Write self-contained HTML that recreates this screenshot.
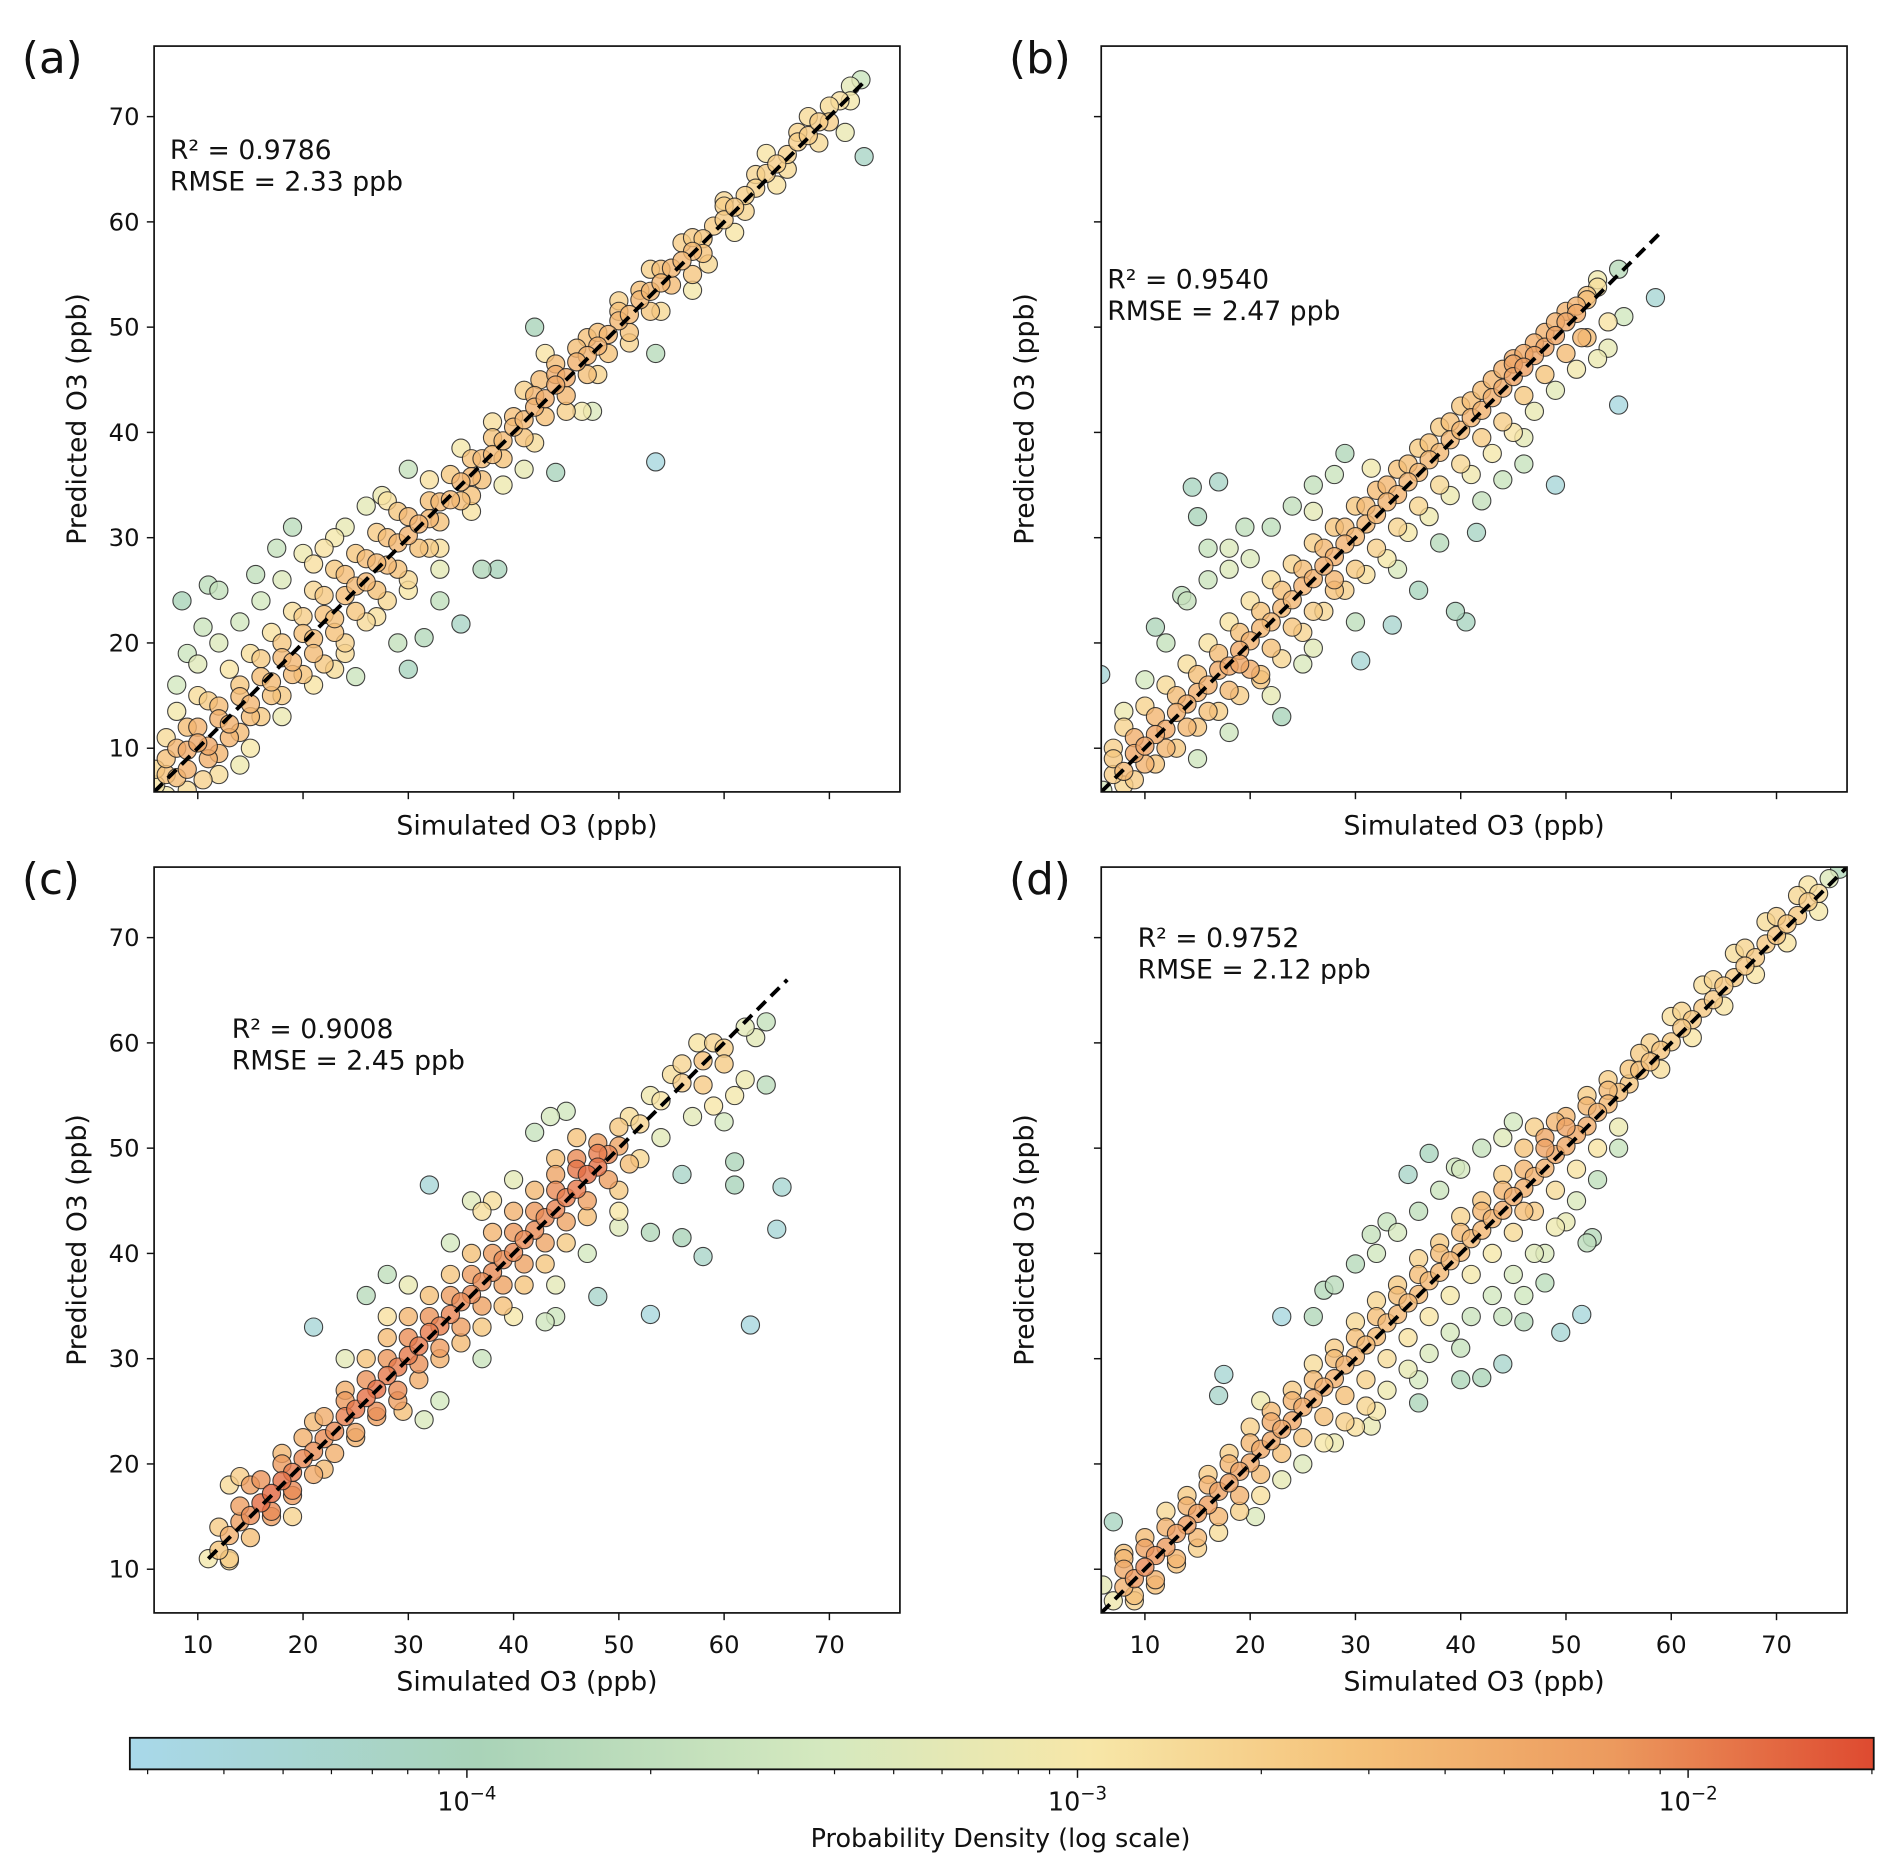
<!DOCTYPE html>
<html><head><meta charset="utf-8"><style>html,body{margin:0;padding:0;background:#fff}svg{display:block}text{font-family:"DejaVu Sans","Liberation Sans",sans-serif;fill:#111}</style></head>
<body>
<svg id="fig" width="1892" height="1870" viewBox="0 0 1560 1542" xmlns="http://www.w3.org/2000/svg">
<defs>
<linearGradient id="cmap" x1="0" x2="1" y1="0" y2="0">
<stop offset="0" stop-color="#a8d8ea"/><stop offset="0.2" stop-color="#a9d3b8"/><stop offset="0.4" stop-color="#d5e9bf"/><stop offset="0.55" stop-color="#f7e7a8"/><stop offset="0.7" stop-color="#f5c27a"/><stop offset="0.85" stop-color="#ec9a5e"/><stop offset="1" stop-color="#de4a30"/>
</linearGradient>
</defs>
<g id="panels"></g>
<g id="cbar"></g>
</svg>
<script>
const simA=[6,7,8,9,10,11,12,13,14,15,16,17,18,19,20,21,22,23,24,25,26,27,28,29,30,31,32,33,34,35,36,37,38,39,40,41,42,43,44,45,46,47,48,49,50,51,52,53,54,55,56,57,58,59,60,61,62,63,64,65,66,67,68,69,70,71,72,73,
7,8,9,10,7,9,11,12,13,14,15,16,17,18,19,20,21,22,23,24,25,26,27,28,29,30,32,33,35,36,38,39,41,42,44,45,47,48,50,51,53,54,56,57,60,61,64,65,68,69,
8.5,11,12,10.5,9,15.5,17.5,19,21,23,27.5,30,28,14,10.5,25,23,30,31.5,29,35,33,37,38.5,32,42,43,42.5,47.5,46.5,44,53.5,53.5,57,58.5,71.5,73.3,36,41];
const predA=[6.5,7.5,7.2,9.8,10.5,10.2,12.8,12.3,14.9,14.2,16.8,16.3,18.6,18.2,20.9,20.4,22.7,22.3,24.5,25.4,25.8,27.6,27.4,29.5,30.2,31.3,31.8,33.4,33.6,35.3,35.8,37.5,37.9,39.2,40.5,41.2,42.4,43.2,44.5,45.2,46.7,47.3,48.2,49.3,50.6,51.2,52.6,53.4,54.2,55.6,56.3,57.2,58.4,59.6,60.2,61.4,62.5,63.2,64.6,65.5,66.4,67.6,68.2,69.5,71,71.5,72.9,73.5,
11,13.5,12,15,9,6,14.5,9.5,17.5,11.5,19,13,21,15,23,17,25,18,27,20,28.5,22,30.5,24,32.5,26,35.5,29,38.5,32.5,41,35,44,39,46.5,42,49,45.5,52.5,48.5,55.5,51.5,58,55,62,59,66.5,63.5,70,67.5,
24,25.5,25,21.5,19,26.5,29,31,27.5,30,34,36.5,33.5,8.4,7,16.8,17.5,17.5,20.5,20,21.8,24,27,27,29,50,47.5,45,42,42,36.2,47.5,37.2,53.5,56,68.5,66.2,34,36.5];
const simA2=[6,7,8,9,10,11,12,13,14,15,16,17,18,19,20,21,22,23,24,25,26,27,28,29,30,31,32,33,34,35,36,37,38,39,40,41,42,43,44,45,46,47,48,49,50,51,52,53,54,55,57,58,60,62,63,66,67,70,72,8,10,12,14,16,18,20,22,24,26,12,15,18,21,24,27,30,33];
const predA2=[8,5.5,10,8,12,9,14,11,16,13,18.5,15,20,17,22.5,19,24.5,21,26.5,23,28,25,30,27,32,29,33.5,31.5,36,33.5,37.5,35.5,39.5,37.5,41.5,39.5,43.5,41.5,45.5,43.5,48,45.5,49.5,47.5,51.5,49.5,53.5,51.5,55.5,54,58.5,57,61.5,61,64.5,65,68.5,69.5,71.5,16,18,20,22,24,26,28.5,29,31,33,7.5,10,13,16,19,22.5,25,27];
const simB=[6,7,8,9,10,11,12,13,14,15,16,17,18,19,20,21,22,23,24,25,26,27,28,29,30,31,32,33,34,35,36,37,38,39,40,41,42,43,44,45,46,47,48,49,50,51,52,53,55,
7,8,9,10,11,12,13,14,15,16,17,18,19,20,21,22,23,24,25,26,27,28,29,30,31,32,33,34,35,36,37,38,39,40,41,42,43,44,45,46,47,48,49,50,51,52,53,
5.8,14.5,17,15,16,18,19.5,13.5,11,10,8,23,21,19,25,30.5,33.5,39.5,40.5,36,41.5,44,49,46,55,54,58.5,55.5,31.5,29,26,28,45,51.5];
const predB=[6,7.5,7.8,9.5,10.2,11.3,11.8,13.4,14.2,15.3,16,17.4,17.8,19.3,20.2,21.4,22,23.3,24.1,25.4,26.1,27.3,28.2,29.4,30.1,31.3,32.2,33.4,34.1,35.3,36.2,37.4,38.1,39.3,40.2,41.4,42.1,43.3,44.2,45.3,46.2,47.3,48.1,49.2,50.5,51.3,52.6,53.8,55.5,
10,12,7,14,8.5,16,10,18,12,20,13.5,22,15,24,17,26,18.5,27.5,21,29.5,23,31,25,33,26.5,34.5,28,36.5,30.5,38.5,32,40.5,34,42.5,36,44,38,46,40,47.5,42,49.5,44,51.5,46,53,47,
17,34.8,35.3,32,29,29,31,24.5,21.5,16.5,13.5,13,16.5,18,18,18.3,21.7,23,22,25,30.5,35.5,35,39.5,42.6,48,52.8,51,36.6,38,32.5,26,47,49];
const simB2=[7,8,9,10,11,12,13,14,15,16,17,18,19,20,21,22,23,24,25,26,27,28,29,30,31,32,33,34,35,36,37,38,39,40,41,42,43,44,45,46,47,48,49,50,51,52,53,54,12,14,16,18,20,22,24,26,28,15,18,22,26,30,34,38,42,46];
const predB2=[9,6.5,11,8.5,13,10,15,12,17,13.5,19,15.5,21,17.5,23,19.5,25,21.5,27,23,29,25,31,27,33,29,35,31,37,33,39,35,41,37,43,39.5,45,41,46.5,43.5,48.5,45.5,50.5,47.5,52,49,54.5,50.5,20,24,26,27,28,31,33,35,36,9,11.5,15,19.5,22,27,29.5,33.5,37];
const simC=[11,12,13,14,15,16,17,18,19,20,21,22,23,24,25,26,27,28,29,30,31,32,33,34,35,36,37,38,39,40,41,42,43,44,45,46,47,48,49,50,52,54,56,58,60,62,64,
13,15,17,18,19,21,22,24,25,26,27,28,29,30,31,32,33,34,35,36,37,38,39,40,41,42,43,44,45,46,47,48,50,51,52,55,57,59,61,63,64,
21,32,42,43.5,45,53,62.5,58,56,53,65,65.5,61,61,56,48,31.5,19,13,14,26,28,29.5,36,37,44,43,50,59,60,62,57.5];
const predC=[11,11.8,13.2,14.5,15.1,16.3,17.2,18.4,19.2,20.5,21.2,22.4,23.1,24.5,25.2,26.3,27.1,28.4,29.2,30.3,31.2,32.5,33.1,34.2,35.4,36.1,37.3,38.2,39.4,40.1,41.3,42.2,43.4,44.2,45.3,46.1,47.5,48.2,49.4,50.2,52.3,54.5,56.2,58.3,59.5,61.5,62,
10.8,18,15,21,17,24,19.5,27,22.5,30,24.5,32,26,34,28,36,30,38,31.5,40,33,42,35,44,37,46,39,47.5,41,49,43.5,50.5,46,53,49,57,53,60,55,60.5,56,
33,46.5,51.5,53,53.5,34.2,33.2,39.7,41.5,42,42.3,46.3,46.5,48.7,47.5,35.9,24.2,15,18,18.8,36,38,25,45,44,34,33.5,42.5,54,52.5,56.5,60];
const simC2=[12,13,14,15,16,17,18,19,20,21,22,23,24,25,26,27,28,29,30,31,32,33,34,35,36,37,38,39,40,41,42,43,44,45,46,47,48,49,50,51,53,54,56,58,60,24,28,30,34,38,40,44,46,33,37,40,44,47,50];
const predC2=[14,11,16,13,18.5,15.5,20,17.5,22.5,19,24.5,21,26,23,28,25,30,27,32,29.5,34,31,36,33,38,35,40,37,42,39,44,41,46,43,48,45,49.5,47,52,48.5,55,51,58,56,58,30,34,37,41,45,47,49,51,26,30,34,37,40,44];
const simD=[7,8,9,10,11,12,13,14,15,16,17,18,19,20,21,22,23,24,25,26,27,28,29,30,31,32,33,34,35,36,37,38,39,40,41,42,43,44,45,46,47,48,49,50,51,52,53,54,55,56,57,58,59,60,61,62,63,64,65,66,67,68,69,70,71,72,73,74,75,76,
8,9,10,11,12,13,14,15,16,17,18,19,20,21,22,23,24,25,26,27,28,29,30,31,32,33,34,35,36,37,38,39,40,41,42,43,44,45,46,47,48,49,50,51,52,53,54,55,57,60,63,66,69,72,
17.5,37,35,39.5,40,49.5,51.5,40,36,42,44,46,48,31.5,33,30,31.5,23,21,17,45,47,49,52,52.5,46,27,7,8,6,20.5];
const predD=[7,8.3,9.1,10.2,11.3,12.1,13.4,14.2,15.3,16.1,17.4,18.2,19.3,20.1,21.4,22.2,23.3,24.1,25.4,26.2,27.3,28.1,29.4,30.2,31.3,32.1,33.4,34.2,35.3,36.1,37.4,38.2,39.3,40.1,41.4,42.2,43.3,44.1,45.4,46.2,47.3,48.1,49.4,50.2,51.3,52.1,53.4,54.2,55.3,56.1,57.4,58.2,59.3,60.1,61.4,62.2,63.3,64.1,65.4,66.2,67.3,68.1,69.4,70.2,71.3,72.1,73.4,74.2,75.6,76.5,
11,7,13,8.5,15.5,10.5,17,12,19,13.5,21,15.5,23.5,17,25,18.5,27,20,29.5,22,31,24,33.5,25.5,35.5,27,37,29,39.5,30.5,41,32.5,43.5,34,45,36,47.5,38,50,40,51,42.5,53,45,55,47,56.5,50,59,62.5,65.5,68.5,71.5,74,
28.5,49.5,47.5,48.2,48,32.5,34.2,28,25.8,28.2,29.5,33.5,37.2,41.8,43,23.5,23.6,34,26,26.5,52.5,52,52.5,41,41.5,44,36.5,14.5,11.5,8.5,15];
const simD2=[8,9,10,11,12,13,14,15,16,17,18,19,20,21,22,23,24,25,26,27,28,29,30,31,32,33,34,35,36,37,38,39,40,41,42,43,44,45,46,47,48,49,50,51,52,53,54,55,56,58,59,61,62,64,65,67,68,70,71,73,74,26,28,30,32,34,36,38,42,44,28,32,36,40,44,46,48,50];
const predD2=[10,7.5,12,9,14,11,16,13,18,15,20,17,22,19,24,21,26,22.5,28,24.5,30,26.5,32,28,34,30,36,32,38,34,40,36,42,38,44,40,46,42,48,44,50,46,52,48,54,50,55.5,52,57.5,60,57.5,63,60.5,66,63.5,69,66.5,72,69.5,75,72.5,34,37,39,40,42,44,46,50,51,22,25,28,31,34,36,40,43];
const xTicks=[10,20,30,40,50,60,70];
const yTicks=[10,20,30,40,50,60,70];
const statR2=["0.9786","0.9540","0.9008","0.9752"];
const statRMSE=["2.33","2.47","2.45","2.12"];
const cbTicks=[-4,-3,-2];

const NS="http://www.w3.org/2000/svg";
const XMIN=5.85,XMAX=76.7;
function mk(tag,attrs,parent){const e=document.createElementNS(NS,tag);for(const k in attrs)e.setAttribute(k,attrs[k]);if(parent)parent.appendChild(e);return e;}
const stops=[[0,[168,216,234]],[0.2,[169,211,184]],[0.4,[213,233,191]],[0.55,[247,231,168]],[0.7,[245,194,122]],[0.85,[236,154,94]],[1,[222,74,48]]];
function cmap(t){t=Math.max(0,Math.min(1,t));for(let i=1;i<stops.length;i++){if(t<=stops[i][0]){const a=stops[i-1],b=stops[i];const f=(t-a[0])/(b[0]-a[0]);const c=a[1].map((v,j)=>Math.round(v+(b[1][j]-v)*f));return `rgb(${c[0]},${c[1]},${c[2]})`;}}return 'rgb(222,74,48)';}

const panels=[
 {id:"a",L:127,T:38,sim:simA.concat(simA2),pred:predA.concat(predA2),line:[5.85,73.5],tmax:0.8,ann:[140,131],lab:[18,60],xl:false,yl:true},
 {id:"b",L:908,T:38,sim:simB.concat(simB2),pred:predB.concat(predB2),line:[5.85,59],tmax:0.83,ann:[913,238],lab:[832,60],xl:false,yl:false},
 {id:"c",L:127,T:715,sim:simC.concat(simC2),pred:predC.concat(predC2),line:[11,66],tmax:0.95,ann:[191,856],lab:[18,737],xl:true,yl:true},
 {id:"d",L:908,T:715,sim:simD.concat(simD2),pred:predD.concat(predD2),line:[5.85,76.7],tmax:0.88,ann:[938,781],lab:[832,737],xl:true,yl:false}];
const W=615,H=615;
const root=document.getElementById('panels');
panels.forEach(p=>{
 const g=mk('g',{},root);
 
 
 const sx=v=>p.L+(v-XMIN)/(XMAX-XMIN)*W;
 const sy=v=>p.T+H-(v-XMIN)/(XMAX-XMIN)*H;
 const cp=mk('clipPath',{id:'clip'+p.id},g);mk('rect',{x:p.L,y:p.T,width:W,height:H},cp);
 const n=p.sim.length;
 const dens=p.sim.map((x,i)=>{let s=0;for(let j=0;j<n;j++){const dx=x-p.sim[j],dy=p.pred[i]-p.pred[j];s+=Math.exp(-(dx*dx+dy*dy)/(2*2*2));}return Math.log(s);});
 const mn=Math.min(...dens),mx=Math.max(...dens);
 const idx=[...Array(n).keys()].sort((a,b)=>dens[a]-dens[b]);
 const pts=mk('g',{'clip-path':`url(#clip${p.id})`},g);
 
 
 idx.forEach(i=>{
  const t=0.05+(p.tmax-0.05)*Math.pow((dens[i]-mn)/(mx-mn),1.3);
  const c=mk('circle',{cx:sx(p.sim[i]),cy:sy(p.pred[i]),r:7.5,fill:cmap(t),'fill-opacity':0.8,stroke:'#222','stroke-width':0.9,'stroke-opacity':0.85},pts);
  
  
 });
 const ln=mk('line',{x1:sx(p.line[0]),y1:sy(p.line[0]),x2:sx(p.line[1]),y2:sy(p.line[1]),stroke:'#000','stroke-width':3.2,'stroke-dasharray':'10,6','clip-path':`url(#clip${p.id})`},g);
 
 
 const fr=mk('rect',{x:p.L,y:p.T,width:W,height:H,fill:'none',stroke:'#111','stroke-width':1.4},g);
 
 
 xTicks.forEach(v=>{mk('line',{x1:sx(v),x2:sx(v),y1:p.T+H,y2:p.T+H+6,stroke:'#111','stroke-width':1.2},g);
  if(p.xl){const t=mk('text',{x:sx(v),y:p.T+H+33,'text-anchor':'middle','font-size':20},g);t.textContent=v;}});
 yTicks.forEach(v=>{mk('line',{x1:p.L-6,x2:p.L,y1:sy(v),y2:sy(v),stroke:'#111','stroke-width':1.2},g);
  if(p.yl){const t=mk('text',{x:p.L-12,y:sy(v)+7,'text-anchor':'end','font-size':20},g);t.textContent=v;}});
 const xt=mk('text',{x:p.L+W/2,y:p.xl?p.T+H+64:p.T+H+35,'text-anchor':'middle','font-size':22},g);
 xt.textContent='Simulated O3 (ppb)';
 
 
 const yt=mk('text',{x:0,y:0,'text-anchor':'middle','font-size':22,transform:`translate(${p.L-56},${p.T+H/2}) rotate(-90)`},g);
 yt.textContent='Predicted O3 (ppb)';
 
 
 const pi=panels.indexOf(p);
 const a1=mk('text',{x:p.ann[0],y:p.ann[1],'font-size':22},g);a1.textContent='R² = '+statR2[pi];
 
 
 const a2=mk('text',{x:p.ann[0],y:p.ann[1]+26,'font-size':22},g);a2.textContent='RMSE = '+statRMSE[pi]+' ppb';
 
 
 const pl=mk('text',{x:p.lab[0],y:p.lab[1],'font-size':36},g);pl.textContent='('+p.id+')';
 
 
});
const cb=document.getElementById('cbar');
const CL=107,CR=1545,CT=1433,CB=1459,LMIN=-4.552,LMAX=-1.696;
const cx=l=>CL+(l-LMIN)/(LMAX-LMIN)*(CR-CL);
const cr=mk('rect',{x:CL,y:CT,width:CR-CL,height:CB-CT,fill:'url(#cmap)',stroke:'#111','stroke-width':1.5},cb);


for(let d=-5;d<=-2;d++){for(let m=2;m<=9;m++){const l=d+Math.log10(m);if(l>LMIN&&l<LMAX)mk('line',{x1:cx(l),x2:cx(l),y1:CB,y2:CB+4,stroke:'#111','stroke-width':1},cb);}}
cbTicks.forEach(l=>{mk('line',{x1:cx(l),x2:cx(l),y1:CB,y2:CB+7,stroke:'#111','stroke-width':1.2},cb);
 const t=mk('text',{x:cx(l),y:CB+34,'text-anchor':'middle','font-size':21},cb);
 t.innerHTML='10<tspan dy="-9" font-size="15">−'+(-l)+'</tspan>';
 
 });
const ct=mk('text',{x:825,y:1523,'text-anchor':'middle','font-size':21},cb);
ct.textContent='Probability Density (log scale)';


</script>
</body></html>
